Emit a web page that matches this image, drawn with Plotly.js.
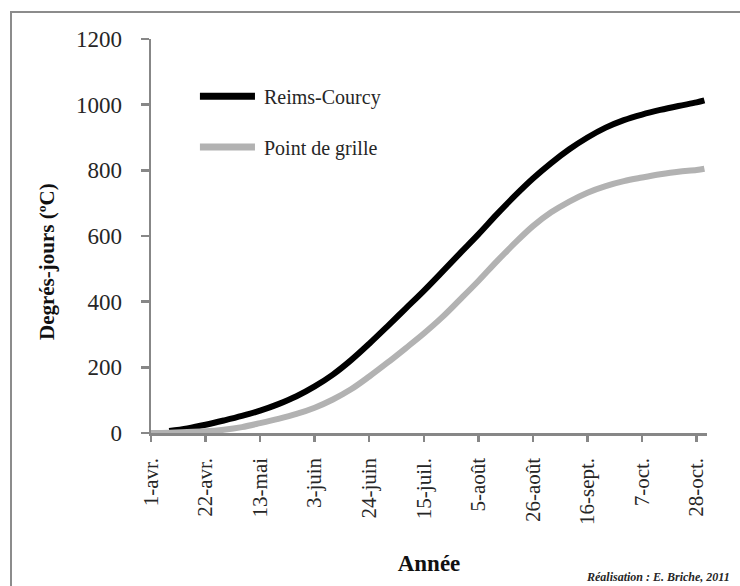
<!DOCTYPE html>
<html>
<head>
<meta charset="utf-8">
<script src="https://cdn.plot.ly/plotly-3.0.1.min.js"></script>
<style>
  html, body { margin: 0; padding: 0; background: #ffffff; }
  #frame { position: absolute; left: 10px; top: 11px; width: 900px; height: 800px; border: 2px solid #8c8c8c; box-sizing: border-box; }
  #chart { position: absolute; left: 0; top: 0; width: 740px; height: 586px; }
</style>
</head>
<body>
<div id="frame"></div>
<div id="chart"></div>
<script>
// Weekly dates (1 April to 31 October)
const dates = [
  '2011-04-01','2011-04-08','2011-04-15','2011-04-22','2011-04-29','2011-05-06','2011-05-13','2011-05-20',
  '2011-05-27','2011-06-03','2011-06-10','2011-06-17','2011-06-24','2011-07-01','2011-07-08','2011-07-15',
  '2011-07-22','2011-07-29','2011-08-05','2011-08-12','2011-08-19','2011-08-26','2011-09-02','2011-09-09',
  '2011-09-16','2011-09-23','2011-09-30','2011-10-07','2011-10-14','2011-10-21','2011-10-28','2011-10-31'
];

// Cumulative degree-days, Reims-Courcy station
const reimsCourcy = [
  null, 6, 14, 25, 38, 52, 68, 88,
  112, 142, 178, 222, 272, 325, 379, 433,
  490, 548, 605, 665, 722, 775, 822, 864,
  900, 930, 953, 970, 984, 996, 1007, 1013
];

// Cumulative degree-days, grid point
const pointDeGrille = [
  0, 1, 3, 5, 10, 18, 30, 43,
  58, 77, 102, 133, 172, 214, 258, 303,
  352, 407, 463, 522, 578, 630, 672, 705,
  732, 752, 767, 778, 788, 796, 801, 805
];

const tickDates = ['2011-04-01','2011-04-22','2011-05-13','2011-06-03','2011-06-24','2011-07-15',
                   '2011-08-05','2011-08-26','2011-09-16','2011-10-07','2011-10-28'];
const tickLabels = ['1-avr.','22-avr.','13-mai','3-juin','24-juin','15-juil.',
                    '5-août','26-août','16-sept.','7-oct.','28-oct.'];
const seriesNames = ['Reims-Courcy', 'Point de grille'];
const seriesColors = ['#000000', '#b2b2b2'];

const serif = "'Liberation Serif', 'Times New Roman', serif";
const axisGray = '#878787';
const textColor = '#262626';

const traces = [
  { x: dates, y: reimsCourcy, name: seriesNames[0], type: 'scatter', mode: 'lines',
    line: { color: seriesColors[0], width: 6, shape: 'spline', smoothing: 1 } },
  { x: dates, y: pointDeGrille, name: seriesNames[1], type: 'scatter', mode: 'lines',
    line: { color: seriesColors[1], width: 6, shape: 'spline', smoothing: 1 } }
];

// Legend drawn inside plot area (paper coordinates)
const legendY = [0.855, 0.726];
const legendShapes = seriesNames.map((n, i) => ({
  type: 'line', xref: 'paper', yref: 'paper',
  x0: 0.088, x1: 0.187, y0: legendY[i], y1: legendY[i],
  line: { color: seriesColors[i], width: 7 }
}));
const legendTexts = seriesNames.map((n, i) => ({
  text: n, xref: 'paper', yref: 'paper', x: 0.199, y: legendY[i] - 0.004,
  xanchor: 'left', yanchor: 'middle', showarrow: false,
  font: { family: serif, size: 20, color: textColor }
}));

const layout = {
  width: 740, height: 586,
  margin: { l: 151, r: 33, t: 39, b: 153 },
  paper_bgcolor: 'rgba(0,0,0,0)',
  plot_bgcolor: 'rgba(0,0,0,0)',
  font: { family: serif, color: textColor, size: 20 },
  showlegend: false,
  xaxis: {
    type: 'date',
    range: ['2011-04-01', '2011-11-01'],
    tickmode: 'array', tickvals: tickDates, ticktext: tickLabels,
    tickangle: -90,
    ticks: 'outside', ticklen: 6, tickwidth: 2.5, tickcolor: axisGray,
    showline: true, linecolor: axisGray, linewidth: 2.5,
    showgrid: false, zeroline: false,
    tickfont: { family: serif, size: 21, color: textColor },
    ticklabelstandoff: 8,
    title: { text: '<b>Année</b>', font: { family: serif, size: 23, color: '#111' }, standoff: 31 },
    fixedrange: true
  },
  yaxis: {
    range: [0, 1200],
    tickvals: [0, 200, 400, 600, 800, 1000, 1200],
    ticks: 'outside', ticklen: 8, tickwidth: 2.5, tickcolor: axisGray,
    showline: true, linecolor: axisGray, linewidth: 2.5,
    showgrid: false, zeroline: false,
    tickfont: { family: serif, size: 23, color: textColor },
    ticklabelstandoff: 14,
    fixedrange: true
  },
  shapes: legendShapes,
  annotations: legendTexts.concat([
    { text: '<b>Degrés-jours (ºC)</b>', xref: 'paper', yref: 'paper',
      x: -0.187, y: 0.434, xanchor: 'center', yanchor: 'middle', textangle: -90, showarrow: false,
      font: { family: serif, size: 21, color: '#111' } },
    { text: '<b><i>Réalisation : E. Briche, 2011</i></b>', xref: 'paper', yref: 'paper',
      x: 1.045, y: -0.366, xanchor: 'right', yanchor: 'middle', showarrow: false,
      font: { family: serif, size: 12, color: textColor } }
  ])
};

Plotly.newPlot('chart', traces, layout, { displayModeBar: false, staticPlot: true });
</script>
</body>
</html>
